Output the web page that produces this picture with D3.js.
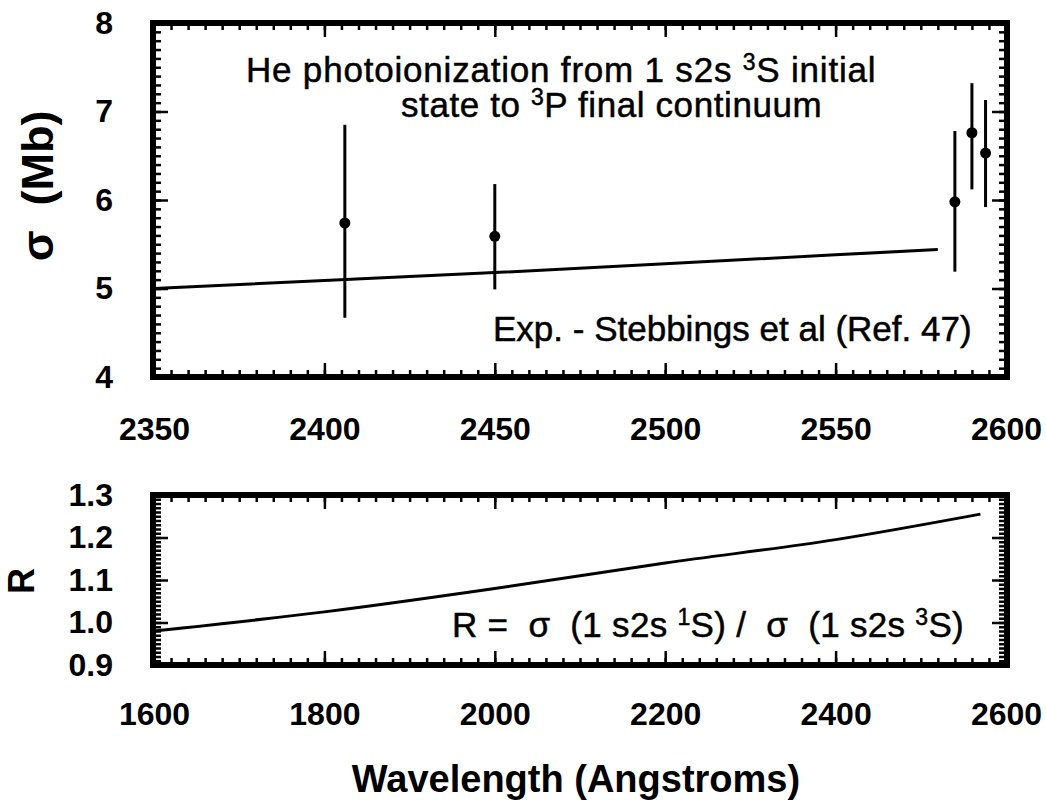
<!DOCTYPE html>
<html>
<head>
<meta charset="utf-8">
<script src="https://cdn.jsdelivr.net/npm/d3@7"></script>
<style>
  body { margin: 0; background: #fff; }
  svg text { font-family: "Liberation Sans", Arial, Helvetica, sans-serif; fill: #000; }
  .ticks line { stroke: #000; stroke-width: 2.5; }
  .labels text { font-size: 32px; font-weight: bold; }
  .note { font-size: 35px; white-space: pre; stroke: #000; stroke-width: 0.5px; }
  .title { font-weight: bold; white-space: pre; }
</style>
</head>
<body>
<div id="wrapper"></div>
<script>
// top panel: sigma (Mb) vs wavelength
const sigmaWl = [2350, 2400, 2450, 2500, 2550, 2580]
const sigmaVal = [5.00, 5.09, 5.18, 5.28, 5.38, 5.44]
const expWl = [2406, 2450, 2585, 2590, 2594]
const expVal = [5.74, 5.59, 5.98, 6.76, 6.53]
const expLow = [4.67, 4.99, 5.19, 6.12, 5.92]
const expHigh = [6.85, 6.18, 6.78, 7.32, 7.13]
const topXTicks = [2350, 2400, 2450, 2500, 2550, 2600]
const topYTicks = [4, 5, 6, 7, 8]

// bottom panel: ratio R vs wavelength
const ratioWl = [1600, 1800, 2000, 2200, 2400, 2570]
const ratioVal = [0.980, 1.025, 1.080, 1.140, 1.195, 1.255]
const bottomXTicks = [1600, 1800, 2000, 2200, 2400, 2600]
const bottomYTicks = [0.9, 1.0, 1.1, 1.2, 1.3]

const width = 1046
const height = 800

const svg = d3.select("#wrapper")
  .append("svg")
    .attr("width", width)
    .attr("height", height)

// scales
const xTop = d3.scaleLinear().domain([2350, 2600]).range([154, 1006])
const yTop = d3.scaleLinear().domain([4, 8]).range([377, 23])
const xBot = d3.scaleLinear().domain([1600, 2600]).range([154, 1006])
const yBot = d3.scaleLinear().domain([0.9, 1.3]).range([665, 495])

function drawFrame(xScale, yScale, xMajor, xMinor, yMajor, yMinor, yFormat, xPad) {
  const [x0, x1] = xScale.range()
  const [y0, y1] = yScale.range()

  const sides = [
    [d3.axisBottom(xScale), `translate(0,${y0})`, xMajor, xMinor],
    [d3.axisTop(xScale), `translate(0,${y1})`, xMajor, xMinor],
    [d3.axisLeft(yScale), `translate(${x0},0)`, yMajor, yMinor],
    [d3.axisRight(yScale), `translate(${x1},0)`, yMajor, yMinor],
  ]
  sides.forEach(([axis, tr, major, minor]) => {
    svg.append("g").attr("class", "ticks").attr("transform", tr)
      .call(axis.tickValues(minor).tickSize(-7).tickFormat(""))
      .call(g => g.select(".domain").remove())
    svg.append("g").attr("class", "ticks").attr("transform", tr)
      .call(axis.tickValues(major).tickSize(-14).tickFormat(""))
      .call(g => g.select(".domain").remove())
  })

  // tick labels
  svg.append("g").attr("class", "labels")
      .attr("transform", `translate(0,${y0})`)
    .call(d3.axisBottom(xScale).tickValues(xMajor).tickSize(0).tickPadding(xPad).tickFormat(d3.format("d")))
    .call(g => g.select(".domain").remove())

  svg.append("g").attr("class", "labels")
      .attr("transform", `translate(${x0},0)`)
    .call(d3.axisLeft(yScale).tickValues(yMajor).tickSize(0).tickPadding(41).tickFormat(yFormat))
    .call(g => g.select(".domain").remove())

  // heavy box
  svg.append("rect")
      .attr("x", x0 - 1)
      .attr("y", y1)
      .attr("width", x1 - x0 + 2)
      .attr("height", y0 - y1)
      .attr("fill", "none")
      .attr("stroke", "#000")
      .attr("stroke-width", 6)
}

drawFrame(xTop, yTop, topXTicks, d3.range(2350, 2600.5, 5),
  topYTicks, d3.range(4, 8.001, 0.1), d3.format("d"), 40)
drawFrame(xBot, yBot, bottomXTicks, d3.range(1600, 2601, 20),
  bottomYTicks, d3.range(0.9, 1.3001, 0.01), d3.format(".1f"), 37)

// top panel data
const sigmaLine = d3.line()
  .x((d, i) => xTop(sigmaWl[i]))
  .y(d => yTop(d))

svg.append("path")
    .attr("d", sigmaLine(sigmaVal))
    .attr("fill", "none")
    .attr("stroke", "#000")
    .attr("stroke-width", 3)

svg.selectAll(".errbar")
  .data(expWl)
  .join("line")
    .attr("class", "errbar")
    .attr("x1", d => xTop(d))
    .attr("x2", d => xTop(d))
    .attr("y1", (d, i) => yTop(expLow[i]))
    .attr("y2", (d, i) => yTop(expHigh[i]))
    .attr("stroke", "#000")
    .attr("stroke-width", 3)

svg.selectAll(".dot")
  .data(expWl)
  .join("circle")
    .attr("class", "dot")
    .attr("cx", d => xTop(d))
    .attr("cy", (d, i) => yTop(expVal[i]))
    .attr("r", 5.5)
    .attr("fill", "#000")

// bottom panel data
const ratioLine = d3.line()
  .x((d, i) => xBot(ratioWl[i]))
  .y(d => yBot(d))
  .curve(d3.curveMonotoneX)

svg.append("path")
    .attr("d", ratioLine(ratioVal))
    .attr("fill", "none")
    .attr("stroke", "#000")
    .attr("stroke-width", 3)

// annotations, {sup: ".."} parts are raised
function note(x, y, spacing, parts) {
  const t = svg.append("text")
      .attr("class", "note")
      .attr("x", x)
      .attr("y", y)
      .style("letter-spacing", spacing + "px")
  let shift = 0
  parts.forEach(p => {
    const sup = typeof p !== "string"
    const target = sup ? -12 : 0
    const span = t.append("tspan")
        .attr("dy", target - shift)
        .text(sup ? p.sup : p)
    if (sup) span.attr("font-size", 23)
    shift = target
  })
}

note(246, 82, 0.8, ["He photoionization from 1 s2s ", {sup: "3"}, "S initial"])
note(401, 117, 0.6, ["state to ", {sup: "3"}, "P final continuum"])
note(493, 341, 0, ["Exp. - Stebbings et al (Ref. 47)"])
note(452, 637, 0.3, ["R =  σ  (1 s2s ", {sup: "1"}, "S) /  σ  (1 s2s ", {sup: "3"}, "S)"])

// axis titles
svg.append("text")
    .attr("class", "title")
    .attr("font-size", 45)
    .attr("text-anchor", "middle")
    .attr("transform", "translate(53,186) rotate(-90)")
    .text("σ  (Mb)")

svg.append("text")
    .attr("class", "title")
    .attr("font-size", 36)
    .attr("text-anchor", "middle")
    .attr("transform", "translate(34,581) rotate(-90)")
    .text("R")

svg.append("text")
    .attr("class", "title")
    .attr("font-size", 38)
    .attr("text-anchor", "middle")
    .attr("x", 576)
    .attr("y", 792)
    .text("Wavelength (Angstroms)")
</script>
</body>
</html>
